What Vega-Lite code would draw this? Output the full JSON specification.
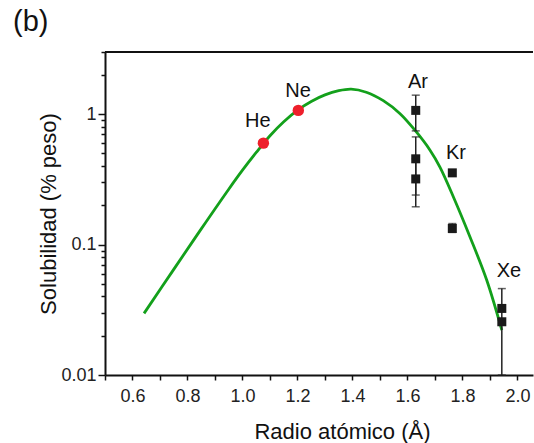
{
  "$schema": "https://vega.github.io/schema/vega-lite/v6.json",
  "width": 428,
  "height": 323,
  "autosize": {"type": "none"},
  "padding": {"left": 105, "top": 52, "right": 1, "bottom": 68},
  "background": "white",
  "config": {
    "font": "Liberation Sans",
    "view": {"stroke": null},
    "axis": {
      "grid": false,
      "domainColor": "#111",
      "domainWidth": 2,
      "tickColor": "#111",
      "tickWidth": 1.5,
      "labelFont": "Liberation Sans",
      "labelFontSize": 18,
      "labelColor": "#222",
      "titleFont": "Liberation Sans",
      "titleFontSize": 22,
      "titleFontWeight": "normal",
      "titleColor": "#111"
    }
  },
  "title": {
    "text": "(b)",
    "anchor": "start",
    "frame": "group",
    "dx": -92,
    "dy": 32,
    "offset": 15,
    "baseline": "alphabetic",
    "fontSize": 29,
    "fontWeight": "normal",
    "font": "Liberation Sans",
    "color": "#111"
  },
  "datasets": {
    "curve": [
      {"r": 0.642, "s": 0.0297},
      {"r": 0.75, "s": 0.0646},
      {"r": 0.85, "s": 0.132},
      {"r": 0.95, "s": 0.266},
      {"r": 1.0, "s": 0.372},
      {"r": 1.05, "s": 0.509},
      {"r": 1.10, "s": 0.684},
      {"r": 1.15, "s": 0.875},
      {"r": 1.203, "s": 1.084},
      {"r": 1.25, "s": 1.253},
      {"r": 1.30, "s": 1.406},
      {"r": 1.35, "s": 1.514},
      {"r": 1.395, "s": 1.556},
      {"r": 1.45, "s": 1.475},
      {"r": 1.512, "s": 1.27},
      {"r": 1.573, "s": 1.009},
      {"r": 1.627, "s": 0.754},
      {"r": 1.682, "s": 0.53},
      {"r": 1.718, "s": 0.393},
      {"r": 1.767, "s": 0.232},
      {"r": 1.827, "s": 0.115},
      {"r": 1.888, "s": 0.0535},
      {"r": 1.943, "s": 0.0221}
    ],
    "errors": [
      {"gas": "Ar", "r": 1.63, "lo": 0.745, "hi": 1.40},
      {"gas": "Ar", "r": 1.63, "lo": 0.24, "hi": 0.67},
      {"gas": "Ar", "r": 1.63, "lo": 0.195, "hi": 0.455},
      {"gas": "Kr", "r": 1.763, "lo": 0.124, "hi": 0.145},
      {"gas": "Xe", "r": 1.943, "lo": 0.01, "hi": 0.046}
    ],
    "exp": [
      {"gas": "Ar", "r": 1.63, "s": 1.07},
      {"gas": "Ar", "r": 1.63, "s": 0.455},
      {"gas": "Ar", "r": 1.63, "s": 0.319},
      {"gas": "Kr", "r": 1.763, "s": 0.355},
      {"gas": "Kr", "r": 1.763, "s": 0.133},
      {"gas": "Xe", "r": 1.943, "s": 0.0324},
      {"gas": "Xe", "r": 1.943, "s": 0.0256}
    ],
    "red": [
      {"gas": "He", "r": 1.076, "s": 0.60},
      {"gas": "Ne", "r": 1.203, "s": 1.07}
    ],
    "labels": [
      {"gas": "He", "r": 1.056, "s": 0.795},
      {"gas": "Ne", "r": 1.202, "s": 1.357},
      {"gas": "Ar", "r": 1.638, "s": 1.582},
      {"gas": "Kr", "r": 1.776, "s": 0.452},
      {"gas": "Xe", "r": 1.969, "s": 0.0564}
    ],
    "frame": [
      {"r": 0.5, "r2": 2.0564, "s": 3}
    ]
  },
  "encoding": {
    "x": {
      "field": "r", "type": "quantitative",
      "scale": {"domain": [0.5, 2.0564], "nice": false, "zero": false},
      "axis": {
        "title": "Radio atómico (Å)",
        "values": [0.5, 0.6, 0.7, 0.8, 0.9, 1.0, 1.1, 1.2, 1.3, 1.4, 1.5, 1.6, 1.7, 1.8, 1.9, 2.0],
        "labelExpr": "round(datum.value*10) % 2 == 0 ? format(datum.value, '.1f') : ''",
        "tickSize": 5,
        "labelPadding": 7,
        "labelFlush": false,
        "labelOverlap": false,
        "titleX": 237,
        "titleY": 63,
        "titleAlign": "center",
        "titleBaseline": "alphabetic"
      }
    },
    "y": {
      "field": "s", "type": "quantitative",
      "scale": {"type": "log", "domain": [0.01, 3], "nice": false},
      "axis": {
        "title": "Solubilidad (% peso)",
        "values": [0.01, 0.02, 0.03, 0.04, 0.05, 0.06, 0.07, 0.08, 0.09, 0.1, 0.2, 0.3, 0.4, 0.5, 0.6, 0.7, 0.8, 0.9, 1, 2, 3],
        "labelExpr": "datum.value == 1 ? '1' : datum.value == 0.1 ? '0.1' : datum.value == 0.01 ? '0.01' : ''",
        "tickSize": {"condition": {"test": "datum.value == 1 || datum.value == 0.1 || datum.value == 0.01", "value": 7}, "value": 4},
        "labelPadding": 2,
        "labelOverlap": false,
        "labelFlush": false,
        "titleX": -50,
        "titleY": 161.5,
        "titleAngle": -90,
        "titleAlign": "center",
        "titleBaseline": "alphabetic"
      }
    }
  },
  "layer": [
    {
      "data": {"name": "curve"},
      "mark": {"type": "line", "color": "#13a01b", "strokeWidth": 2.8, "interpolate": "catmull-rom"}
    },
    {
      "data": {"name": "frame"},
      "mark": {"type": "rule", "color": "#111", "strokeWidth": 2},
      "encoding": {
        "x2": {"field": "r2"}
      }
    },
    {
      "data": {"name": "errors"},
      "mark": {"type": "rule", "color": "#222", "strokeWidth": 1.5},
      "encoding": {
        "y": {"field": "lo", "type": "quantitative"},
        "y2": {"field": "hi"}
      }
    },
    {
      "data": {"name": "errors"},
      "mark": {"type": "tick", "color": "#222", "thickness": 1.5, "size": 8, "orient": "horizontal"},
      "encoding": {
        "y": {"field": "hi", "type": "quantitative"}
      }
    },
    {
      "data": {"name": "errors"},
      "mark": {"type": "tick", "color": "#222", "thickness": 1.5, "size": 8, "orient": "horizontal"},
      "encoding": {
        "y": {"field": "lo", "type": "quantitative"}
      }
    },
    {
      "data": {"name": "exp"},
      "mark": {"type": "square", "color": "#1a1a1a", "opacity": 1, "size": 81, "filled": true}
    },
    {
      "data": {"name": "red"},
      "mark": {"type": "circle", "color": "#ee1f2b", "opacity": 1, "size": 130}
    },
    {
      "data": {"name": "labels"},
      "mark": {"type": "text", "font": "Liberation Sans", "fontSize": 20, "color": "#111", "align": "center", "baseline": "alphabetic"},
      "encoding": {
        "text": {"field": "gas"}
      }
    }
  ]
}
